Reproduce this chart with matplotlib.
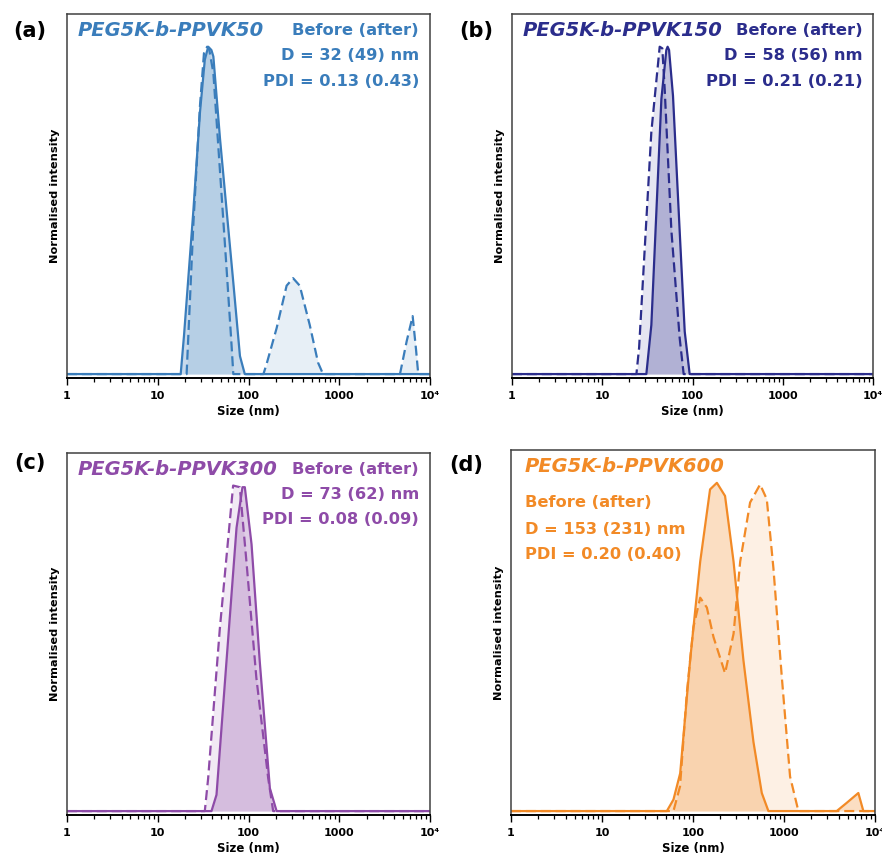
import matplotlib.pyplot as plt
from matplotlib.ticker import LogLocator, NullFormatter, FixedLocator, FixedFormatter

# ---- data (size in nm, normalised intensity) ----
a_before_x = [1, 17.9, 19.5, 24.7, 29.2, 33, 36, 39, 41, 48.5, 57.4, 68, 80.5, 91, 10000]
a_before_y = [0, 0, 0.12, 0.50, 0.80, 0.96, 1.0, 0.99, 0.97, 0.72, 0.50, 0.28, 0.055, 0, 0]
a_after_x = [1, 20.8, 24.7, 29.2, 32.3, 35, 37, 41, 48.5, 57.4, 65, 68,
             146, 158, 204, 263, 310, 367, 473, 584, 663,
             4670, 5530, 6440, 7010, 7420, 10000]
a_after_y = [0, 0, 0.46, 0.82, 0.98, 1.0, 0.99, 0.92, 0.62, 0.32, 0.09, 0,
             0, 0.03, 0.14, 0.27, 0.293, 0.27, 0.15, 0.035, 0,
             0, 0.10, 0.177, 0.076, 0, 0]

b_before_x = [1, 30.8, 35, 45.2, 51.3, 53, 55, 60.8, 72, 82, 93, 10000]
b_before_y = [0, 0, 0.15, 0.84, 0.99, 1.0, 0.99, 0.85, 0.44, 0.13, 0, 0]
b_after_x = [1, 23.9, 25.6, 35, 43.3, 46.3, 49.2, 58.3, 72.1, 79.8, 10000]
b_after_y = [0, 0, 0.08, 0.74, 1.0, 0.995, 0.87, 0.44, 0.11, 0, 0]

c_before_x = [1, 39.1, 44.4, 57.2, 73.8, 85.8, 91.1, 108, 133, 172, 204, 10000]
c_before_y = [0, 0, 0.05, 0.46, 0.87, 0.995, 0.995, 0.82, 0.46, 0.07, 0, 0]
c_after_x = [1, 33, 35.9, 48.3, 67.7, 80.2, 95, 122, 165, 187, 10000]
c_after_y = [0, 0, 0.10, 0.56, 1.0, 0.995, 0.765, 0.41, 0.10, 0, 0]

d_before_x = [1, 51.6, 61, 72.3, 93, 120, 154, 183, 225, 279, 358, 462, 570, 674,
              3795, 4890, 6560, 7450, 10000]
d_before_y = [0, 0, 0.035, 0.115, 0.46, 0.76, 0.98, 1.0, 0.96, 0.76, 0.46, 0.21, 0.055, 0,
              0, 0.025, 0.055, 0, 0]
d_after_x = [1, 61, 72, 85.6, 101, 120, 142, 168, 225, 279, 330, 424, 546, 647, 765,
             945, 1166, 1439, 10000]
d_after_y = [0, 0, 0.075, 0.36, 0.56, 0.65, 0.62, 0.53, 0.42, 0.54, 0.76, 0.94, 0.995,
             0.95, 0.74, 0.41, 0.105, 0, 0]

panel_tags = ["(a)", "(b)", "(c)", "(d)"]
names = ["PEG5K-b-PPVK50", "PEG5K-b-PPVK150", "PEG5K-b-PPVK300", "PEG5K-b-PPVK600"]
stats = [
    ["Before (after)", "D = 32 (49) nm", "PDI = 0.13 (0.43)"],
    ["Before (after)", "D = 58 (56) nm", "PDI = 0.21 (0.21)"],
    ["Before (after)", "D = 73 (62) nm", "PDI = 0.08 (0.09)"],
    ["Before (after)", "D = 153 (231) nm", "PDI = 0.20 (0.40)"],
]
colors = ["#3a7dbb", "#2b2d8c", "#8e4ba8", "#f28a26"]
tick_vals = [1, 10, 100, 1000, 10000]
tick_labels = ["1", "10", "100", "1000", "10⁴"]

curves = [
    (a_before_x, a_before_y, a_after_x, a_after_y),
    (b_before_x, b_before_y, b_after_x, b_after_y),
    (c_before_x, c_before_y, c_after_x, c_after_y),
    (d_before_x, d_before_y, d_after_x, d_after_y),
]

W, H = 882, 863
# axes boxes in pixels: left, top, right, bottom
boxes = [(67, 14, 430, 378), (512, 14, 873, 378), (67, 453, 430, 815), (511, 450, 875, 815)]
# panel tag centres in pixels
tag_pos = [(30, 31), (476, 31), (30, 463), (466, 465)]

plt.rcParams["font.family"] = "DejaVu Sans"
fig = plt.figure(figsize=(W / 100, H / 100), dpi=100)

for i, (l, t, r, b) in enumerate(boxes):
    ax = fig.add_axes([l / W, 1 - b / H, (r - l) / W, (b - t) / H])
    bx, by, ax_x, ax_y = curves[i]
    col = colors[i]

    ax.fill_between(ax_x, ax_y, 0, color=col, alpha=0.12, lw=0)
    ax.fill_between(bx, by, 0, color=col, alpha=0.28, lw=0)
    ax.plot(ax_x, ax_y, color=col, lw=1.6, ls=(0, (4.5, 2.2)))
    ax.plot(bx, by, color=col, lw=1.6)

    ax.set_xscale("log")
    ax.set_xlim(1, 10000)
    ax.set_ylim(-0.012, 1.1)
    ax.xaxis.set_major_locator(FixedLocator(tick_vals))
    ax.xaxis.set_major_formatter(FixedFormatter(tick_labels))
    ax.xaxis.set_minor_locator(LogLocator(base=10, subs=range(2, 10)))
    ax.xaxis.set_minor_formatter(NullFormatter())
    ax.set_yticks([])
    ax.tick_params(axis="x", which="major", length=5, width=1.0, direction="out",
                   labelsize=8, pad=4)
    ax.tick_params(axis="x", which="minor", length=3, width=0.9, direction="out")
    for lab in ax.get_xticklabels():
        lab.set_fontweight("bold")
    for s in ["top", "left", "right"]:
        ax.spines[s].set_color("#404040")
        ax.spines[s].set_linewidth(1.1)
    ax.spines["bottom"].set_color("black")
    ax.spines["bottom"].set_linewidth(1.4)

    ax.set_xlabel("Size (nm)", fontsize=8.5, fontweight="bold", labelpad=3)
    ax.set_ylabel("Normalised intensity", fontsize=8.2, fontweight="bold", labelpad=5)

    if i < 3:
        ax.text(0.03, 0.955, names[i], transform=ax.transAxes, color=col,
                fontsize=14, fontweight="bold", fontstyle="italic",
                ha="left", va="center")
        ys = [0.955, 0.885, 0.815]
        for k, line in enumerate(stats[i]):
            ax.text(0.97, ys[k], line, transform=ax.transAxes, color=col,
                    fontsize=11.7, fontweight="bold", ha="right", va="center")
    else:
        ax.text(0.038, 0.954, names[i], transform=ax.transAxes, color=col,
                fontsize=14, fontweight="bold", fontstyle="italic",
                ha="left", va="center")
        ys = [0.856, 0.783, 0.715]
        for k, line in enumerate(stats[i]):
            ax.text(0.038, ys[k], line, transform=ax.transAxes, color=col,
                    fontsize=11.7, fontweight="bold", ha="left", va="center")

    tx, ty = tag_pos[i]
    fig.text(tx / W, 1 - ty / H, panel_tags[i], fontsize=15,
             fontweight="bold", ha="center", va="center")

fig.savefig("out.png", dpi=100)
